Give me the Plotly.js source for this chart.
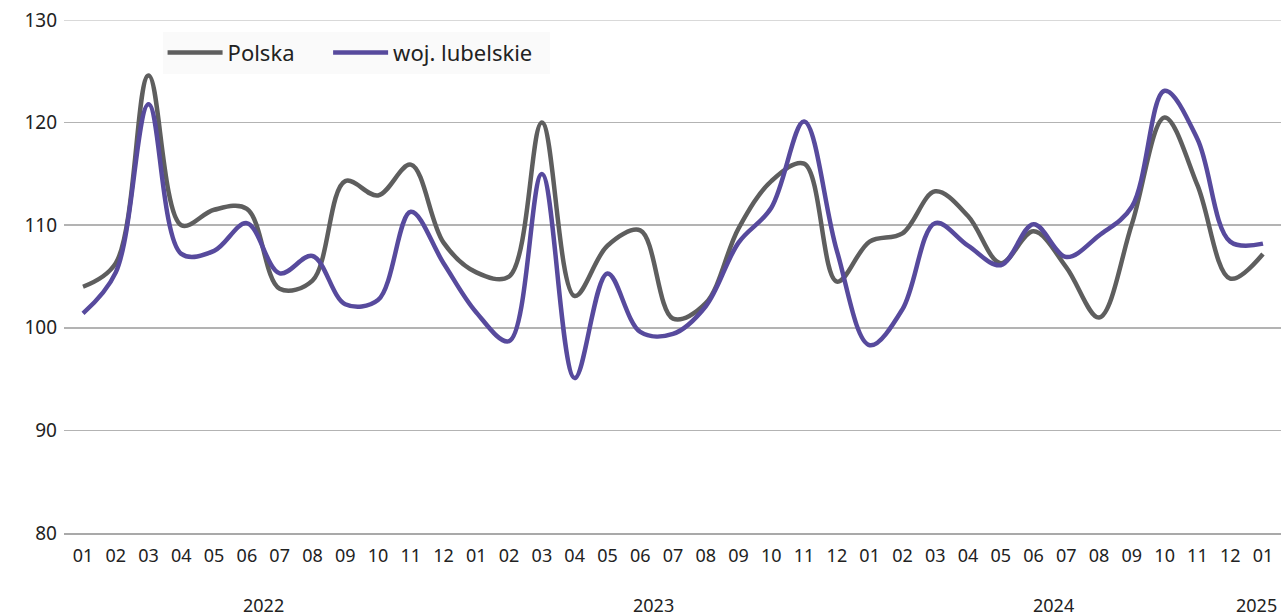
<!DOCTYPE html>
<html>
<head>
<meta charset="utf-8">
<script src="https://cdn.plot.ly/plotly-3.0.1.min.js"></script>
<style>html,body{margin:0;padding:0;background:#fff;}#chart{width:1287px;height:616px;}</style>
</head>
<body>
<div id="chart"></div>
<script>
const years = ["2022", "2023", "2024", "2025"];
const monthLabels = ["01","02","03","04","05","06","07","08","09","10","11","12"];
const periods = [
  "2022-01","2022-02","2022-03","2022-04","2022-05","2022-06","2022-07","2022-08","2022-09","2022-10","2022-11","2022-12",
  "2023-01","2023-02","2023-03","2023-04","2023-05","2023-06","2023-07","2023-08","2023-09","2023-10","2023-11","2023-12",
  "2024-01","2024-02","2024-03","2024-04","2024-05","2024-06","2024-07","2024-08","2024-09","2024-10","2024-11","2024-12",
  "2025-01"
];
const polska = [
  104.0, 106.3, 124.6, 110.0, 111.5, 111.6, 103.8, 104.6, 114.3, 112.9, 115.9, 108.3,
  105.4, 105.0, 120.0, 103.1, 108.0, 109.5, 100.9, 102.4, 109.7, 114.3, 116.0, 104.5,
  108.4, 109.2, 113.3, 110.9, 106.3, 109.4, 105.9, 101.0, 110.1, 120.5, 113.9, 104.8,
  107.2
];
const lubelskie = [
  101.4, 105.4, 121.8, 107.2, 107.5, 110.2, 105.3, 107.0, 102.3, 102.7, 111.3, 106.3,
  101.5, 98.7, 115.0, 95.1, 105.3, 99.6, 99.4, 102.1, 108.3, 111.7, 120.1, 107.5,
  98.3, 101.8, 110.2, 108.0, 106.1, 110.1, 106.9, 109.0, 111.8, 123.1, 118.4, 108.4,
  108.2
];
const seriesNames = ["Polska", "woj. lubelskie"];
const yearLabelPos = [5.5, 17.4, 29.6, 35.8];

const tickText = periods.map(p => p.split("-")[1]);
const pad = "\u00a0\u00a0\u00a0\u00a0\u00a0";

const traces = [
  {x: periods, y: polska, name: seriesNames[0] + pad, type: "scatter", mode: "lines",
   line: {color: "#5e5e5e", width: 4.5, shape: "spline", smoothing: 1}},
  {x: periods, y: lubelskie, name: seriesNames[1] + "\u00a0\u00a0", type: "scatter", mode: "lines",
   line: {color: "#574a9d", width: 4.5, shape: "spline", smoothing: 1}}
];

const font = "'Noto Sans', 'Open Sans', sans-serif";
const annotations = years.map((yr, i) => ({
  x: yearLabelPos[i], xref: "x", y: 0, yref: "paper", yshift: -86,
  text: yr, showarrow: false, font: {family: font, size: 18, color: "#222"}
}));

const layout = {
  width: 1287, height: 616,
  margin: {l: 64, r: 6, t: 20, b: 83},
  paper_bgcolor: "#fff", plot_bgcolor: "#fff",
  showlegend: true,
  legend: {orientation: "h", x: 0.081, y: 0.977, xanchor: "left", yanchor: "top",
    bgcolor: "#fafafa", font: {family: font, size: 22, color: "#222"},
    itemwidth: 55, tracegroupgap: 0},
  xaxis: {type: "category", categoryorder: "array", categoryarray: periods,
    tickvals: periods, ticktext: tickText, range: [-0.58, 36.55],
    showgrid: false, zeroline: false, showline: true, linecolor: "#a9a9a9", linewidth: 2,
    ticks: "", ticklabelstandoff: 5,
    tickfont: {family: font, size: 18, color: "#222"}, tickangle: 0, automargin: false},
  yaxis: {range: [80, 130], dtick: 10, tick0: 80, showgrid: true, gridcolor: "#b3b3b3", gridwidth: 1.6,
    zeroline: false, showline: false, ticks: "", ticklabelstandoff: 6,
    tickfont: {family: font, size: 19, color: "#222"}, automargin: false},
  shapes: [{type: "line", xref: "paper", x0: 0, x1: 1, yref: "y", y0: 130, y1: 130,
    line: {color: "#d9d9d9", width: 2}, layer: "below"}],
  annotations: annotations
};

Plotly.newPlot("chart", traces, layout, {displayModeBar: false, staticPlot: true});
</script>
</body>
</html>
